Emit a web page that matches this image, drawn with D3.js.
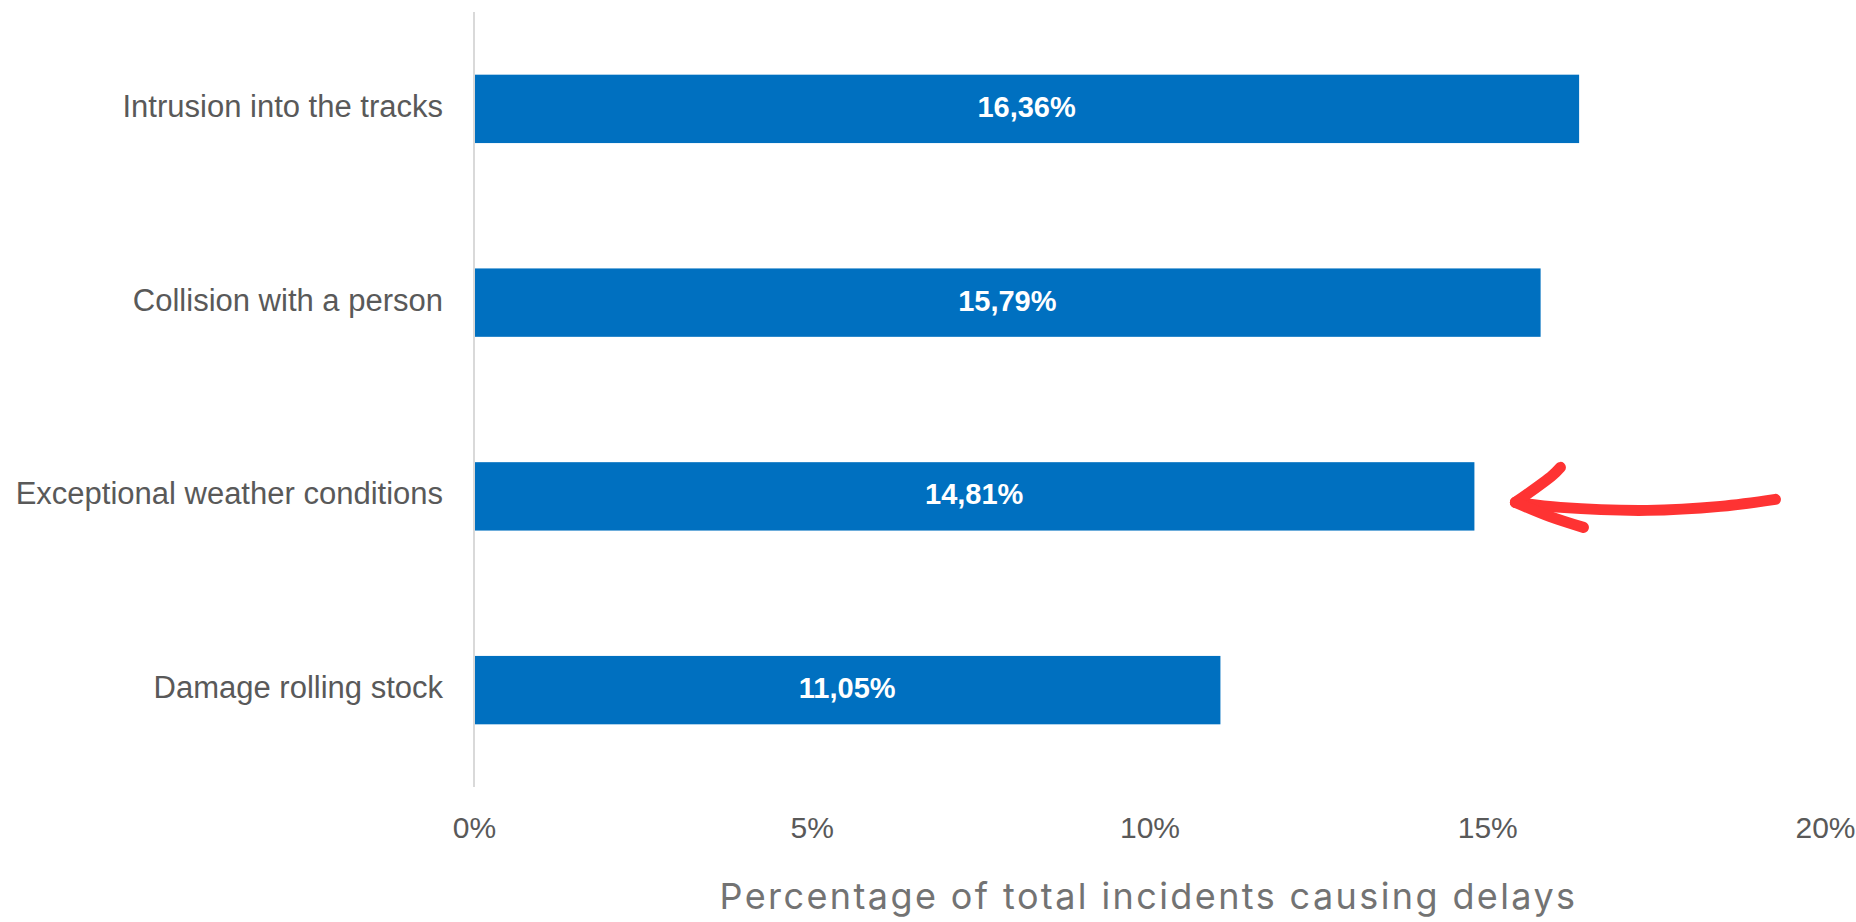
<!DOCTYPE html>
<html>
<head>
<meta charset="utf-8">
<script src="https://cdn.jsdelivr.net/npm/d3@7"></script>
<style>
  html, body { margin: 0; padding: 0; background: #ffffff; }
  svg { display: block; }
</style>
</head>
<body>
<svg id="chart" width="1856" height="922"></svg>
<script>
// Causes of delay, top to bottom
const categories = [
  "Intrusion into the tracks",
  "Collision with a person",
  "Exceptional weather conditions",
  "Damage rolling stock"
];
// Share of total incidents causing delays (fraction)
const shares = [0.1636, 0.1579, 0.1481, 0.1105];
const valueLabels = ["16,36%", "15,79%", "14,81%", "11,05%"];
const tickValues = [0, 0.05, 0.10, 0.15, 0.20];
const tickLabels = ["0%", "5%", "10%", "15%", "20%"];
const axisTitle = "Percentage of total incidents causing delays";
const highlighted = "Exceptional weather conditions";

const svg = d3.select("#chart");

const plot = { left: 474, right: 1825, top: 12, bottom: 787 };

const x = d3.scaleLinear().domain([0, 0.20]).range([plot.left, plot.right]);
const y = d3.scaleBand()
  .domain(categories)
  .range([plot.top, plot.bottom])
  .paddingInner(0.647)
  .paddingOuter(0.3235);

// Bars
svg.append("g").selectAll("rect")
  .data(categories)
  .join("rect")
  .attr("x", x(0))
  .attr("y", d => y(d))
  .attr("width", (d, i) => x(shares[i]) - x(0))
  .attr("height", y.bandwidth())
  .attr("fill", "#0070c0");

// Value labels inside the bars
svg.append("g").selectAll("text")
  .data(categories)
  .join("text")
  .attr("x", (d, i) => (x(0) + x(shares[i])) / 2)
  .attr("y", d => y(d) + y.bandwidth() / 2 + 8)
  .attr("text-anchor", "middle")
  .attr("fill", "#ffffff")
  .style("font-family", "'Liberation Sans', Arial, sans-serif")
  .style("font-weight", "bold")
  .style("font-size", "29px")
  .text((d, i) => valueLabels[i]);

// Category axis: vertical rule plus labels
const yAxis = d3.axisLeft(y).tickSize(0).tickPadding(31);
const gy = svg.append("g")
  .attr("transform", `translate(${plot.left},0)`)
  .call(yAxis);
gy.select(".domain").remove();
gy.selectAll("text")
  .attr("dy", null)
  .attr("y", 0)
  .attr("dominant-baseline", "auto")
  .attr("transform", "translate(0,8)")
  .attr("fill", "#595959")
  .style("font-family", "'Liberation Sans', Arial, sans-serif")
  .style("font-size", "31px");

svg.append("line")
  .attr("x1", plot.left).attr("x2", plot.left)
  .attr("y1", plot.top).attr("y2", plot.bottom)
  .attr("stroke", "#d9d9d9")
  .attr("stroke-width", 2);

// Value axis (labels only)
const xAxis = d3.axisBottom(x)
  .tickValues(tickValues)
  .tickFormat((d, i) => tickLabels[i])
  .tickSize(0)
  .tickPadding(0);
const gx = svg.append("g")
  .attr("transform", `translate(0,838)`)
  .call(xAxis);
gx.select(".domain").remove();
gx.selectAll("text")
  .attr("dy", null)
  .attr("y", 0)
  .attr("fill", "#595959")
  .style("font-family", "'Liberation Sans', Arial, sans-serif")
  .style("font-size", "30px");

// Axis title
svg.append("text")
  .attr("x", (plot.left + plot.right) / 2 - 1)
  .attr("y", 909)
  .attr("text-anchor", "middle")
  .attr("fill", "#737373")
  .style("font-family", "Inter, 'Open Sans', sans-serif")
  .style("font-size", "36px")
  .style("letter-spacing", "2.4px")
  .text(axisTitle);

// Hand-drawn arrow pointing at the highlighted bar
const hi = categories.indexOf(highlighted);
const bx = x(shares[hi]);
const by = y(highlighted) + y.bandwidth() / 2;
const line = d3.line().curve(d3.curveCatmullRom.alpha(0.5));
const arrow = svg.append("g")
  .attr("transform", `translate(${bx},${by})`)
  .attr("fill", "none")
  .attr("stroke", "#fe3333")
  .attr("stroke-width", 11)
  .attr("stroke-linecap", "round")
  .attr("stroke-linejoin", "round");
arrow.append("path").attr("d", line([[301, 3], [246, 10], [173, 14], [86, 11], [41, 6]]));
arrow.append("path").attr("d", line([[86, -29], [78, -21], [41, 6]]));
arrow.append("path").attr("d", line([[41, 6], [75, 20], [109, 31]]));
</script>
</body>
</html>
